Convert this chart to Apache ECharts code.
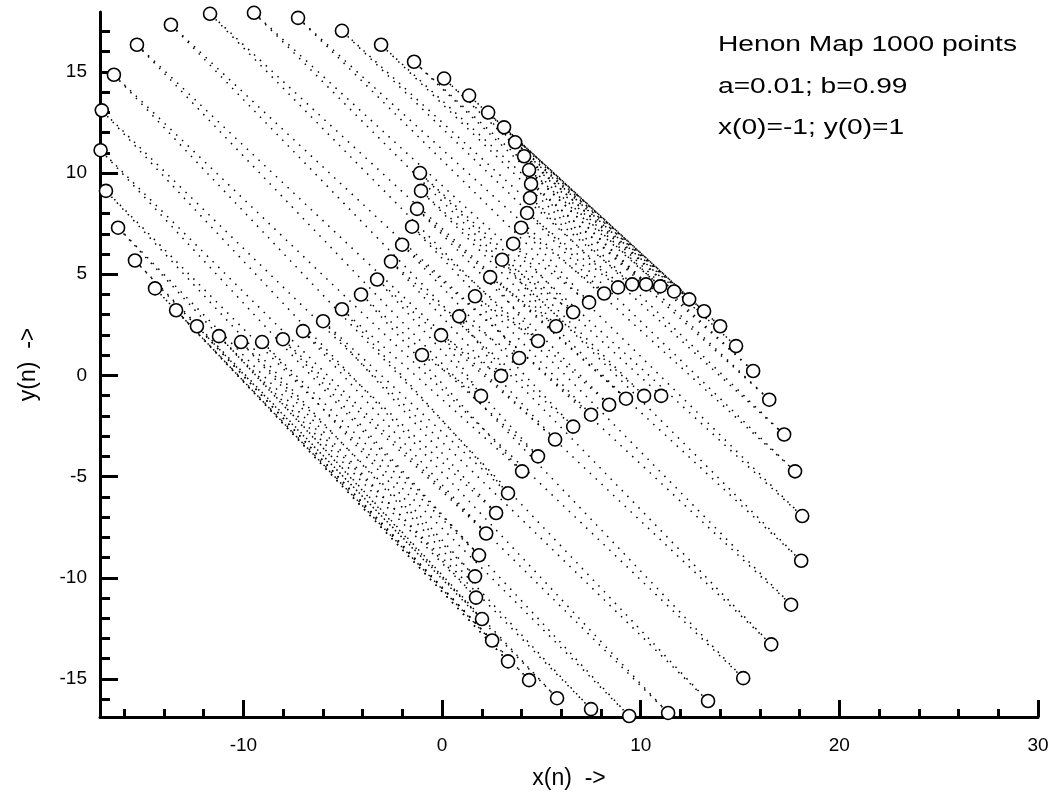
<!DOCTYPE html>
<html>
<head>
<meta charset="UTF-8">
<title>Henon Map</title>
<script src="https://cdn.jsdelivr.net/npm/echarts@6/dist/echarts.min.js"></script>
</head>
<body style="margin:0">
<div id="main" style="width:1062px;height:795px;"></div>
<script>
// first 100 iterates, drawn as circles: even points (curveA) and odd points (curveB)
var curveA = [
  [-1.01,1.01],[-0.05,1.99],[0.86,2.92],[1.66,3.91],[2.42,4.86],[3.02,5.72],[3.58,6.51],[3.98,7.30],
  [4.28,8.03],[4.43,8.77],[4.48,9.46],[4.38,10.15],[4.13,10.83],[3.68,11.52],[3.12,12.26],[2.32,12.99],
  [1.36,13.83],[0.10,14.67],[-1.41,15.50],[-3.07,16.34],[-5.04,17.03],[-7.25,17.67],[-9.47,17.92],
  [-11.68,17.87],[-13.65,17.33],[-15.36,16.34],[-16.52,14.86],[-17.13,13.10],[-17.19,11.13],[-16.92,9.12],
  [-16.31,7.30],[-15.46,5.68],[-14.45,4.30],[-13.39,3.22],[-12.34,2.43],[-11.23,1.94],[-10.12,1.65],
  [-9.06,1.65],[-8.01,1.79],[-7.00,2.19],[-5.99,2.68],[-5.04,3.27],[-4.08,4.00],[-3.27,4.74],[-2.57,5.63],
  [-2.01,6.46],[-1.51,7.35],[-1.26,8.23],[-1.06,9.12],[-1.11,10.00]
];
var curveB = [
  [1.96,-1.01],[2.97,-0.02],[3.88,0.86],[4.83,1.70],[5.74,2.43],[6.60,3.12],[7.40,3.61],[8.16,4.05],
  [8.86,4.35],[9.57,4.50],[10.27,4.50],[10.98,4.40],[11.68,4.15],[12.44,3.76],[13.19,3.17],[14.00,2.43],
  [14.80,1.45],[15.66,0.22],[16.47,-1.20],[17.22,-2.92],[17.77,-4.74],[18.13,-6.95],[18.08,-9.16],
  [17.57,-11.33],[16.57,-13.29],[15.16,-14.96],[13.39,-16.09],[11.38,-16.68],[9.42,-16.83],[7.50,-16.49],
  [5.79,-15.95],[4.38,-15.06],[3.32,-14.13],[2.52,-13.10],[2.01,-12.04],[1.71,-10.98],[1.66,-9.93],
  [1.86,-8.89],[2.22,-7.81],[2.72,-6.80],[3.32,-5.82],[4.03,-4.74],[4.83,-4.00],[5.69,-3.17],[6.60,-2.53],
  [7.50,-1.94],[8.41,-1.45],[9.26,-1.15],[10.17,-1.01],[11.03,-1.01]
];

var xRange = [-17.22, 30];
var yRange = [-16.88, 17.96];
var xMajor = [-10, 0, 10, 20, 30];
var xMinor = [-16, -14, -12, -8, -6, -4, -2, 2, 4, 6, 8, 12, 14, 16, 18, 22, 24, 26, 28];
var yMajor = [-15, -10, -5, 0, 5, 10, 15];
var yMinor = [-16, -14, -13, -12, -11, -9, -8, -7, -6, -4, -3, -2, -1, 1, 2, 3, 4, 6, 7, 8, 9, 11, 12, 13, 14, 16, 17];
var infoLines = ['Henon Map 1000 points', 'a=0.01; b=0.99', 'x(0)=-1; y(0)=1'];

var font = 'Liberation Sans';

// the later iterates pile up in dotted tracks across the orbit:
// each track joins one circled point to the point that follows it
var tracks = [];
for (var i = 0; i < curveA.length; i++) {
  tracks.push({ coords: [curveA[i], curveB[i]] });
  if (i + 1 < curveA.length) {
    tracks.push({ coords: [curveB[i], curveA[i + 1]] });
  }
}

var infoText = [];
for (var j = 0; j < infoLines.length; j++) {
  infoText.push({
    type: 'text', left: 718, top: 34 + j * 41.5, scaleX: 1.28,
    style: { text: infoLines[j], font: '22px "Liberation Sans"', fill: '#000' }
  });
}

var chart = echarts.init(document.getElementById('main'));
chart.setOption({
  animation: false,
  backgroundColor: '#fff',
  graphic: infoText,
  grid: { left: 100, right: 24, top: 12, bottom: 74 },
  xAxis: [{
    type: 'value', min: xRange[0], max: xRange[1], position: 'bottom',
    name: 'x(n)  ->', nameLocation: 'middle', nameGap: 50,
    nameTextStyle: { fontFamily: font, fontSize: 23, color: '#000' },
    splitLine: { show: false },
    axisLine: { onZero: false, lineStyle: { color: '#000', width: 3 } },
    axisTick: { inside: true, length: 17, customValues: xMajor, lineStyle: { color: '#000', width: 3 } },
    axisLabel: { customValues: xMajor, margin: 19, fontFamily: font, fontSize: 19, color: '#000' }
  }, {
    type: 'value', min: xRange[0], max: xRange[1], position: 'bottom',
    splitLine: { show: false },
    axisLine: { show: false, onZero: false },
    axisTick: { inside: true, length: 8, customValues: xMinor, lineStyle: { color: '#000', width: 3 } },
    axisLabel: { show: false }
  }],
  yAxis: [{
    type: 'value', min: yRange[0], max: yRange[1], position: 'left',
    name: 'y(n)  ->', nameLocation: 'middle', nameGap: 60, nameRotate: 90,
    nameTextStyle: { fontFamily: font, fontSize: 23, color: '#000' },
    splitLine: { show: false },
    axisLine: { onZero: false, lineStyle: { color: '#000', width: 3 } },
    axisTick: { inside: true, length: 18, customValues: yMajor, lineStyle: { color: '#000', width: 3 } },
    axisLabel: { customValues: yMajor, margin: 13, fontFamily: font, fontSize: 19, color: '#000' }
  }, {
    type: 'value', min: yRange[0], max: yRange[1], position: 'left',
    splitLine: { show: false },
    axisLine: { show: false, onZero: false },
    axisTick: { inside: true, length: 10, customValues: yMinor, lineStyle: { color: '#000', width: 3 } },
    axisLabel: { show: false }
  }],
  series: [{
    type: 'lines',
    coordinateSystem: 'cartesian2d',
    xAxisIndex: 0, yAxisIndex: 0,
    silent: true,
    z: 1,
    lineStyle: { color: '#000', width: 1.5, type: [1.5, 6.5], opacity: 1 },
    data: tracks
  }, {
    type: 'scatter',
    xAxisIndex: 0, yAxisIndex: 0,
    z: 3,
    symbol: 'circle',
    symbolSize: 13,
    itemStyle: { color: '#fff', borderColor: '#000', borderWidth: 1.6, opacity: 1 },
    data: curveA.concat(curveB)
  }]
});
</script>
</body>
</html>
